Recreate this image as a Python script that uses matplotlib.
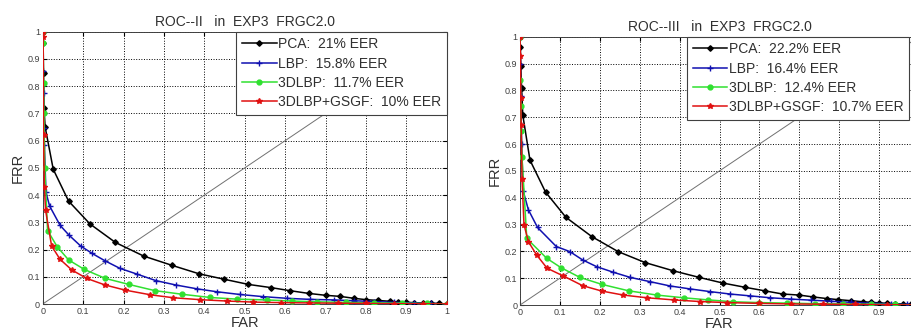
import matplotlib
matplotlib.use("Agg")
import matplotlib.pyplot as plt
import numpy as np

plt.rcParams['font.family'] = ['Liberation Sans', 'DejaVu Sans']

# ROC-II curves (left panel)
pca2_far = [0, 0.001, 0.002, 0.003, 0.006, 0.026, 0.064, 0.117, 0.18, 0.25, 0.32, 0.387, 0.449, 0.509,
            0.566, 0.612, 0.658, 0.7, 0.736, 0.77, 0.8, 0.83, 0.86, 0.88, 0.9, 0.92, 0.94, 0.96, 0.98, 1.0]
pca2_frr = [1.0, 0.96, 0.85, 0.72, 0.65, 0.495, 0.378, 0.294, 0.226, 0.176, 0.142, 0.111, 0.091, 0.072,
            0.06, 0.049, 0.039, 0.032, 0.028, 0.021, 0.016, 0.013, 0.010, 0.008, 0.006, 0.005, 0.004, 0.003, 0.002, 0.0]
lbp2_far = [0, 0.001, 0.002, 0.003, 0.004, 0.008, 0.017, 0.043, 0.065, 0.094, 0.122, 0.155, 0.191, 0.233,
            0.28, 0.329, 0.381, 0.431, 0.488, 0.546, 0.604, 0.662, 0.72, 0.77, 0.82, 0.87, 0.92, 0.96, 1.0]
lbp2_frr = [1.0, 0.855, 0.776, 0.647, 0.584, 0.41, 0.36, 0.289, 0.253, 0.213, 0.186, 0.158, 0.131, 0.110,
            0.086, 0.07, 0.056, 0.045, 0.035, 0.027, 0.021, 0.017, 0.015, 0.012, 0.009, 0.006, 0.004, 0.002, 0.0]
dlbp2_far = [0, 0.001, 0.002, 0.003, 0.005, 0.012, 0.036, 0.064, 0.103, 0.155, 0.213, 0.278, 0.344,
             0.414, 0.48, 0.554, 0.616, 0.68, 0.75, 0.82, 0.89, 0.95, 1.0]
dlbp2_frr = [1.0, 0.96, 0.81, 0.7, 0.5, 0.27, 0.21, 0.162, 0.127, 0.094, 0.072, 0.049, 0.036,
             0.024, 0.018, 0.015, 0.011, 0.008, 0.006, 0.004, 0.003, 0.002, 0.0]
gsgf2_far = [0, 0.001, 0.002, 0.004, 0.007, 0.022, 0.043, 0.072, 0.109, 0.154, 0.204, 0.266, 0.323,
             0.389, 0.455, 0.521, 0.59, 0.66, 0.73, 0.8, 0.87, 0.94, 1.0]
gsgf2_frr = [1.0, 0.98, 0.62, 0.43, 0.345, 0.213, 0.164, 0.125, 0.094, 0.07, 0.051, 0.034, 0.023,
             0.016, 0.011, 0.007, 0.005, 0.004, 0.003, 0.002, 0.001, 0.001, 0.0]

# ROC-III curves (right panel)
pca3_far = [0, 0.001, 0.002, 0.004, 0.007, 0.025, 0.064, 0.115, 0.18, 0.246, 0.314, 0.383, 0.449, 0.508,
            0.564, 0.613, 0.658, 0.7, 0.735, 0.769, 0.798, 0.83, 0.86, 0.88, 0.9, 0.92, 0.94, 0.96, 0.98, 1.0]
pca3_frr = [1.0, 0.96, 0.89, 0.81, 0.708, 0.54, 0.421, 0.327, 0.255, 0.199, 0.158, 0.128, 0.103, 0.082,
            0.066, 0.053, 0.041, 0.037, 0.03, 0.024, 0.02, 0.016, 0.012, 0.01, 0.008, 0.006, 0.005, 0.004, 0.002, 0.0]
lbp3_far = [0, 0.001, 0.002, 0.004, 0.008, 0.021, 0.044, 0.091, 0.125, 0.157, 0.192, 0.234, 0.276,
            0.326, 0.376, 0.426, 0.476, 0.526, 0.577, 0.627, 0.68, 0.73, 0.78, 0.83, 0.88, 0.93, 0.97, 1.0]
lbp3_frr = [1.0, 0.9, 0.78, 0.6, 0.425, 0.355, 0.289, 0.218, 0.199, 0.168, 0.143, 0.122, 0.103,
            0.087, 0.071, 0.06, 0.05, 0.041, 0.034, 0.027, 0.022, 0.018, 0.014, 0.01, 0.007, 0.004, 0.002, 0.0]
dlbp3_far = [0, 0.001, 0.002, 0.003, 0.005, 0.017, 0.067, 0.103, 0.15, 0.205, 0.272, 0.343, 0.41,
             0.472, 0.535, 0.6, 0.67, 0.74, 0.81, 0.88, 0.94, 1.0]
dlbp3_frr = [1.0, 0.84, 0.74, 0.65, 0.55, 0.248, 0.174, 0.139, 0.103, 0.077, 0.053, 0.037, 0.027,
             0.019, 0.012, 0.009, 0.007, 0.005, 0.004, 0.003, 0.002, 0.0]
gsgf3_far = [0, 0.001, 0.002, 0.003, 0.005, 0.01, 0.021, 0.042, 0.068, 0.109, 0.157, 0.205, 0.259,
             0.318, 0.385, 0.45, 0.52, 0.6, 0.68, 0.76, 0.84, 0.92, 1.0]
gsgf3_frr = [1.0, 0.93, 0.77, 0.67, 0.47, 0.3, 0.236, 0.186, 0.137, 0.108, 0.072, 0.052, 0.037,
             0.027, 0.019, 0.013, 0.009, 0.006, 0.004, 0.003, 0.002, 0.001, 0.0]

labels2 = ['PCA:  21% EER', 'LBP:  15.8% EER', '3DLBP:  11.7% EER', '3DLBP+GSGF:  10% EER']
labels3 = ['PCA:  22.2% EER', 'LBP:  16.4% EER', '3DLBP:  12.4% EER', '3DLBP+GSGF:  10.7% EER']

styles = [dict(color='black', marker='D', ms=2.8),
          dict(color='#1010b0', marker='+', ms=4, mew=1),
          dict(color='#30e030', marker='o', ms=3.5),
          dict(color='#e01010', marker='*', ms=3.8)]


def draw_panel(ax, curves, labels, title, legend_right=1.0, last_label=True):
    ax.plot([0, 1], [0, 1], color='#707070', lw=0.7, zorder=1)
    for (far, frr), lab, st in zip(curves, labels, styles):
        ax.plot(far, frr, lw=1.1, label=lab, zorder=3, **st)
    ax.set_xlim(0, 1)
    ax.set_ylim(0, 1)
    ticks = np.arange(0, 1.01, 0.1)
    ax.set_xticks(ticks)
    ax.set_yticks(ticks)
    ticklabels = ['0'] + ['%.1f' % t for t in ticks[1:-1]] + ['1']
    xlabels = list(ticklabels)
    if not last_label:
        xlabels[-1] = ''
    ax.set_xticklabels(xlabels)
    ax.set_yticklabels(ticklabels)
    ax.tick_params(direction='in', top=True, right=True, labelsize=6.5, length=3,
                   labelcolor='#404040', pad=2)
    ax.grid(True, linestyle=':', color='black', lw=0.7)
    ax.set_axisbelow(True)
    for s in ax.spines.values():
        s.set_color('#404040')
        s.set_linewidth(0.7)
    ax.set_title(title, fontsize=10, color='#303030', pad=4)
    ax.set_xlabel('FAR', fontsize=10.5, color='#303030', labelpad=0)
    ax.set_ylabel('FRR', fontsize=10.5, color='#303030', labelpad=2)
    leg = ax.legend(loc='upper right', bbox_to_anchor=(legend_right, 1.0), borderaxespad=0,
                    fontsize=10, fancybox=False, framealpha=1, edgecolor='#404040',
                    handlelength=2.5, handletextpad=0.1, labelspacing=0.38, borderpad=0.4)
    leg.get_frame().set_linewidth(0.8)
    for t in leg.get_texts():
        t.set_color('#303030')


fig = plt.figure(figsize=(9.11, 3.32), dpi=100)
ax1 = fig.add_axes([0.0469, 0.0843, 0.4435, 0.820])
ax2 = fig.add_axes([0.5708, 0.0813, 0.438, 0.808])

draw_panel(ax1, [(pca2_far, pca2_frr), (lbp2_far, lbp2_frr), (dlbp2_far, dlbp2_frr), (gsgf2_far, gsgf2_frr)],
           labels2, 'ROC--II   in  EXP3  FRGC2.0')
draw_panel(ax2, [(pca3_far, pca3_frr), (lbp3_far, lbp3_frr), (dlbp3_far, dlbp3_frr), (gsgf3_far, gsgf3_frr)],
           labels3, 'ROC--III   in  EXP3  FRGC2.0', legend_right=0.975, last_label=False)

fig.savefig('out.png', dpi=100)
